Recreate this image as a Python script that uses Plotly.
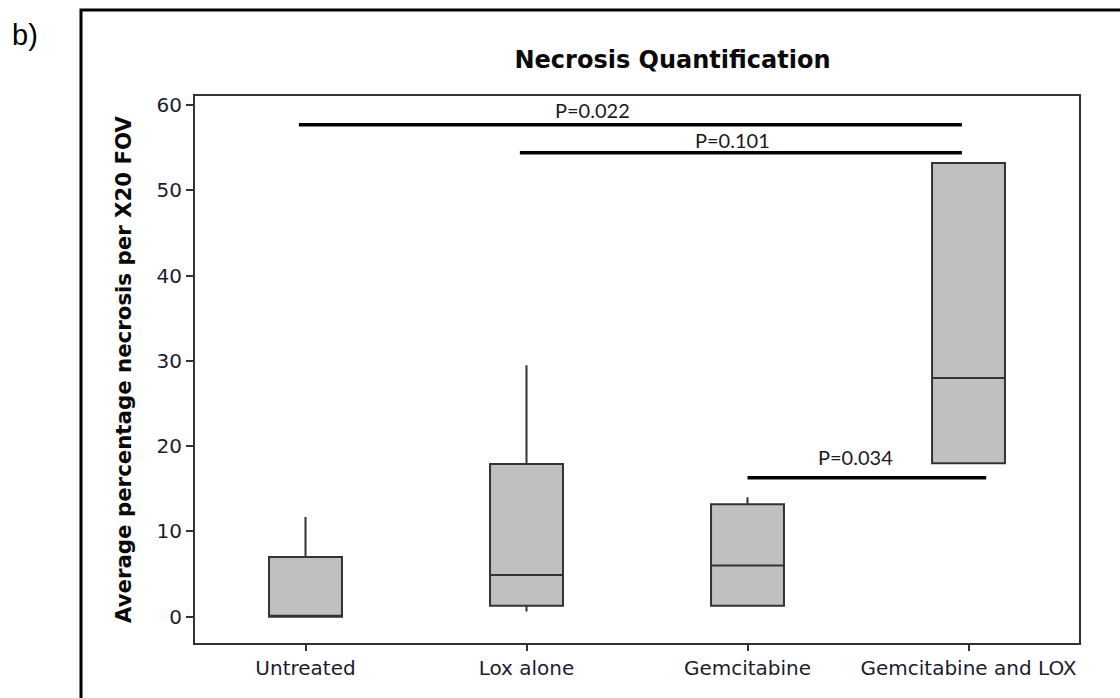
import plotly.graph_objects as go

# Treatment groups and box-plot summary statistics (% necrosis per x20 FOV)
groups = ["Untreated", "Lox alone", "Gemcitabine", "Gemcitabine and LOX"]
lower_whisker = [0.0, 0.6, 1.3, 18.0]
q1 = [0.0, 1.3, 1.3, 18.0]
median = [0.0, 4.9, 6.0, 28.0]
q3 = [7.0, 17.9, 13.2, 53.2]
upper_whisker = [11.7, 29.5, 14.0, 53.2]

# Pairwise comparisons: bar start/end (group index), bar height, label position, label
sig_x0 = [-0.03, 0.97, 2.0]
sig_x1 = [2.97, 2.97, 3.08]
sig_y = [57.7, 54.4, 16.3]
sig_label_x = [1.30, 1.93, 2.49]
sig_label_y = [59.4, 55.9, 18.7]
sig_text = ["P=0.022", "P=0.101", "P=0.034"]

W, H = 1120, 698
ML, MR, MT, MB = 195, 41, 96, 55

fig = go.Figure()

for i, g in enumerate(groups):
    fig.add_trace(go.Box(
        x=[i],
        lowerfence=[lower_whisker[i]],
        q1=[q1[i]],
        median=[median[i]],
        q3=[q3[i]],
        upperfence=[upper_whisker[i]],
        width=0.33,
        fillcolor="#c0c0c0",
        line=dict(color="#333333", width=2),
        whiskerwidth=0,
        boxpoints=False,
        name=g,
        showlegend=False,
        hoverinfo="skip",
    ))

for x0, x1, y in zip(sig_x0, sig_x1, sig_y):
    fig.add_trace(go.Scatter(
        x=[x0, x1], y=[y, y], mode="lines",
        line=dict(color="black", width=3.5),
        showlegend=False, hoverinfo="skip",
    ))

for x, y, t in zip(sig_label_x, sig_label_y, sig_text):
    fig.add_annotation(
        x=x, y=y, text=t, showarrow=False,
        xanchor="center", yanchor="middle",
        font=dict(family="Lato", size=20, color="#1a1a1a"),
    )

# outer panel frame and panel letter
pw = W - ML - MR
ph = H - MT - MB
def px_x(p):
    return (p - ML) / pw
def px_y(p):
    return (H - MB - p) / ph

fig.add_shape(
    type="rect", xref="paper", yref="paper",
    x0=px_x(81), x1=px_x(1135), y0=px_y(10), y1=px_y(712),
    line=dict(color="black", width=3), fillcolor="rgba(0,0,0,0)",
    layer="above",
)
fig.add_annotation(
    xref="paper", yref="paper", x=px_x(10), y=px_y(35),
    xanchor="left", yanchor="middle", text="b)", showarrow=False,
    font=dict(family="Liberation Sans", size=29, color="black"),
)

fig.update_layout(
    width=W, height=H,
    margin=dict(l=ML, r=MR, t=MT, b=MB),
    paper_bgcolor="white", plot_bgcolor="white",
    title=dict(
        text="Necrosis Quantification",
        x=605 / W, xanchor="center", xref="paper",
        y=1 - 60 / H, yanchor="middle", yref="container",
        font=dict(family="DejaVu Sans", size=24, weight="bold", color="#0a0a0a"),
    ),
    xaxis=dict(
        range=[-0.5, 3.5],
        tickmode="array", tickvals=list(range(len(groups))), ticktext=groups,
        showline=True, linecolor="#333333", linewidth=2, mirror=True,
        ticks="outside", ticklen=6, tickwidth=2, tickcolor="#333333",
        showgrid=False, zeroline=False,
        tickfont=dict(family="DejaVu Sans", size=20, color="#1c1c30"),
    ),
    yaxis=dict(
        range=[-3.08, 61.06],
        tickmode="array", tickvals=[0, 10, 20, 30, 40, 50, 60],
        showline=True, linecolor="#333333", linewidth=2, mirror=True,
        ticks="outside", ticklen=7, tickwidth=2, tickcolor="#333333",
        showgrid=False, zeroline=False,
        tickfont=dict(family="DejaVu Sans", size=20, color="#1c1c30"),
        title=dict(
            text="Average percentage necrosis per X20 FOV",
            font=dict(family="DejaVu Sans", size=21.3, weight="bold", color="#0a0a0a"),
            standoff=19,
        ),
    ),
)

fig.write_html("out.html")
